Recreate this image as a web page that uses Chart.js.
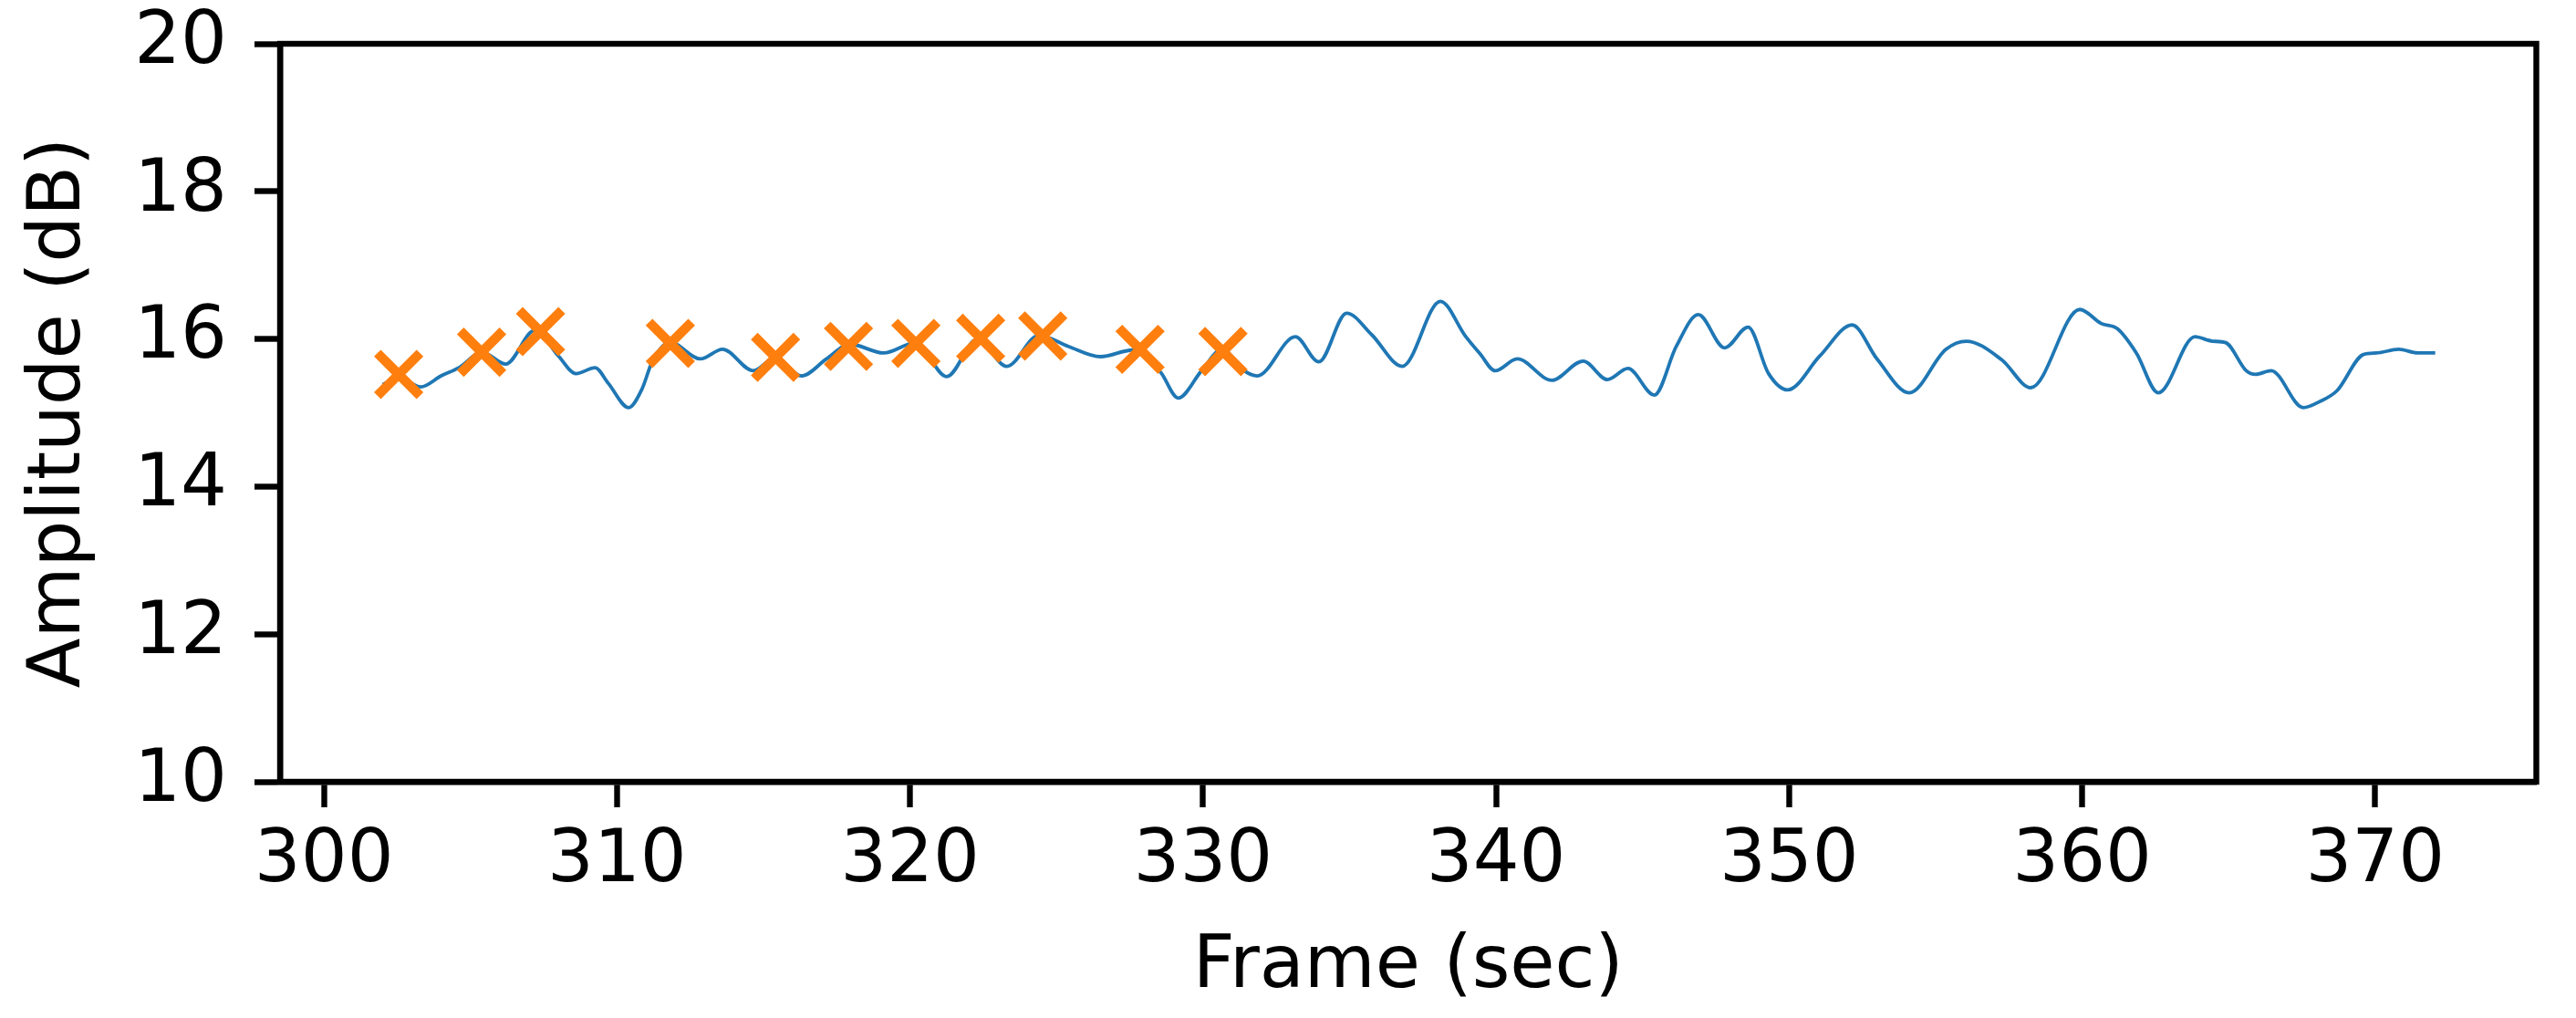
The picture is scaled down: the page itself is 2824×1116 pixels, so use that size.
<!DOCTYPE html>
<html>
<head>
<meta charset="utf-8">
<script src="https://cdn.jsdelivr.net/npm/chart.js@4.4.1/dist/chart.umd.min.js"></script>
<style>
  html, body { margin: 0; padding: 0; background: #ffffff; }
  #wrap { width: 2824px; height: 1116px; }
</style>
</head>
<body>
<div id="wrap"><canvas id="c" width="2824" height="1116"></canvas></div>
<script>
// ---- Data ----
const frameSec = [
  302.0, 302.55, 303.3, 304.0, 304.6, 305.4, 306.2, 307.2, 308.0, 308.6,
  309.25, 309.7, 310.4, 310.85, 311.2, 311.8, 312.85, 313.6, 314.65, 315.4,
  316.3, 317.15, 317.95, 319.1, 320.2, 321.25, 322.3, 323.3, 324.4, 325.4,
  326.5, 327.6, 328.55, 329.15, 329.95, 330.65, 331.4, 331.85, 333.15, 333.95,
  334.9, 335.75, 336.8, 338.1, 338.95, 339.45, 339.97, 340.72, 341.9, 342.97,
  343.8, 344.5, 345.4, 346.15, 346.9, 347.8, 348.6, 349.3, 349.95, 351.05,
  352.15, 353.0, 354.1, 355.35, 356.05, 357.25, 358.25, 359.92, 360.65, 361.2,
  361.85, 362.6, 363.85, 364.45, 364.9, 365.6, 365.92, 366.45, 367.55, 368.1,
  368.7, 369.6, 370.05, 370.8, 371.45, 372.05
];
const amplitudeDb = [
  15.38, 15.48, 15.35, 15.50, 15.61, 15.82, 15.66, 16.12, 15.77, 15.53,
  15.61, 15.40, 15.07, 15.32, 15.69, 15.96, 15.73, 15.86, 15.57, 15.75,
  15.50, 15.73, 15.93, 15.81, 15.95, 15.49, 16.00, 15.63, 16.05, 15.90,
  15.76, 15.85, 15.55, 15.20, 15.57, 15.86, 15.57, 15.50, 16.03, 15.69,
  16.35, 16.06, 15.63, 16.51, 16.04, 15.80, 15.57, 15.73, 15.44, 15.70,
  15.45, 15.60, 15.24, 15.90, 16.33, 15.88, 16.16, 15.53, 15.31, 15.77,
  16.19, 15.73, 15.27, 15.86, 15.97, 15.72, 15.34, 16.40, 16.21, 16.14,
  15.81, 15.27, 16.03, 15.97, 15.95, 15.57, 15.52, 15.57, 15.07, 15.15,
  15.30, 15.79, 15.81, 15.86, 15.81, 15.81
];
const markSec = [302.55, 305.38, 307.39, 311.82, 315.41, 317.90, 320.20, 322.41, 324.53, 327.85, 330.68];
const markDb  = [15.52, 15.82, 16.10, 15.94, 15.75, 15.90, 15.94, 16.01, 16.04, 15.86, 15.83];
const xTicks = [300, 310, 320, 330, 340, 350, 360, 370];
const yTicks = [10, 12, 14, 16, 18, 20];
const xTitle = 'Frame (sec)';
const yTitle = 'Amplitude (dB)';

// ---- Chart ----
const FONT = 'DejaVu Sans';
const FS = 80;
const AXW = 6.4;

const framePlugin = {
  id: 'frame',
  afterDatasetsDraw(chart) {
    const a = chart.chartArea, ctx = chart.ctx;
    ctx.save();
    ctx.strokeStyle = '#000';
    ctx.lineWidth = AXW;
    ctx.lineJoin = 'miter';
    ctx.strokeRect(a.left, a.top, a.right - a.left, a.bottom - a.top);
    ctx.restore();
  }
};

new Chart(document.getElementById('c'), {
  type: 'line',
  data: {
    datasets: [
      {
        type: 'line',
        data: frameSec.map((x, i) => ({ x: x, y: amplitudeDb[i] })),
        borderColor: '#1f77b4',
        borderWidth: 3.8,
        pointRadius: 0,
        fill: false,
        cubicInterpolationMode: 'monotone',
        order: 1
      },
      {
        type: 'scatter',
        data: markSec.map((x, i) => ({ x: x, y: markDb[i] })),
        pointStyle: 'crossRot',
        pointRadius: 33,
        pointBorderWidth: 10.5,
        borderColor: '#ff7f0e',
        backgroundColor: '#ff7f0e',
        showLine: false,
        order: 0
      }
    ]
  },
  options: {
    responsive: false,
    animation: false,
    devicePixelRatio: 1,
    layout: { padding: { top: 48, right: 33, left: 0, bottom: 0 } },
    plugins: { legend: { display: false }, tooltip: { enabled: false } },
    scales: {
      x: {
        type: 'linear',
        min: 298.5,
        max: 375.5,
        afterBuildTicks: (s) => { s.ticks = xTicks.map(v => ({ value: v })); },
        afterFit: (s) => { s.height = 1116 - 857; s.paddingLeft = 0; s.paddingRight = 0; },
        ticks: {
          font: { family: FONT, size: FS },
          color: '#000',
          padding: 12,
          maxRotation: 0,
          autoSkip: false,
          callback: (v) => String(v)
        },
        grid: { drawOnChartArea: false, drawTicks: true, tickLength: 28, tickWidth: AXW, tickColor: '#000' },
        border: { display: true, color: '#000', width: AXW },
        title: { display: true, text: xTitle, font: { family: FONT, size: FS }, color: '#000', padding: { top: 7, bottom: 7 } }
      },
      y: {
        type: 'linear',
        min: 10,
        max: 20,
        afterBuildTicks: (s) => { s.ticks = yTicks.map(v => ({ value: v })); },
        afterFit: (s) => { s.width = 307; s.paddingTop = 0; s.paddingBottom = 0; },
        ticks: {
          font: { family: FONT, size: FS },
          color: '#000',
          padding: 30,
          autoSkip: false,
          callback: (v) => String(v)
        },
        grid: { drawOnChartArea: false, drawTicks: true, tickLength: 28, tickWidth: AXW, tickColor: '#000' },
        border: { display: true, color: '#000', width: AXW },
        title: { display: true, text: yTitle, font: { family: FONT, size: FS }, color: '#000', padding: { top: 18, bottom: 18 } }
      }
    }
  },
  plugins: [framePlugin]
});
</script>
</body>
</html>
